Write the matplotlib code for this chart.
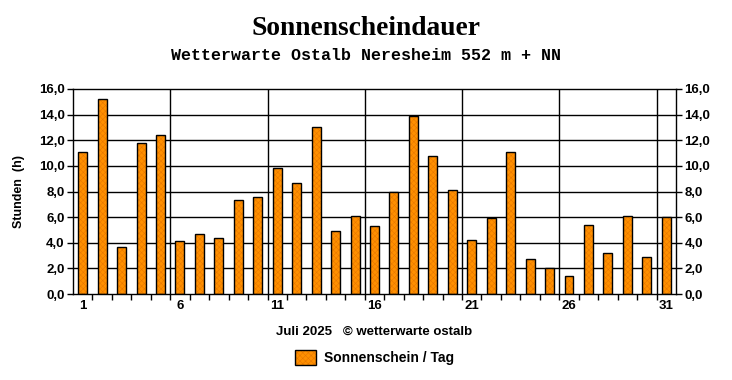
import numpy as np
import matplotlib
matplotlib.use('Agg')
import matplotlib.pyplot as plt

days = np.arange(1, 32)
stunden = [11.1, 15.2, 3.7, 11.8, 12.4, 4.1, 4.7, 4.4, 7.3, 7.6,
           9.8, 8.7, 13.0, 4.9, 6.1, 5.3, 8.0, 13.9, 10.8, 8.1,
           4.2, 5.9, 11.1, 2.7, 2.0, 1.4, 5.4, 3.2, 6.1, 2.9, 6.0]
ytick_vals = np.arange(0, 17, 2)
ytick_labels = ['%.1f' % v for v in ytick_vals]
ytick_labels = [s.replace('.', ',') for s in ytick_labels]
xtick_days = [1, 6, 11, 16, 21, 26, 31]

plt.rcParams['font.family'] = 'Liberation Sans'
plt.rcParams['hatch.linewidth'] = 0.4

fig = plt.figure(figsize=(7.32, 3.8), dpi=100)
ax = fig.add_axes([0.0997, 0.2263, 0.8238, 0.5395])

# Balken: schraffierte Füllung + schwarzer Rand
b1 = ax.bar(days, stunden, 0.46, color='#ff9000', edgecolor='#e87800',
            hatch='xxxxxx', linewidth=0, zorder=2)
b2 = ax.bar(days, stunden, 0.46, fill=False, edgecolor='black',
            linewidth=1.0, zorder=3)

ax.set_xlim(0.5, 31.5)
ax.set_ylim(0, 16)

# Gitter
for v in ytick_vals[1:-1]:
    ax.axhline(v, color='black', lw=1.0, zorder=1)
for d in np.arange(5.5, 31, 5):
    ax.axvline(d, color='black', lw=1.0, zorder=1)

ax.set_yticks(ytick_vals)
ax.set_yticklabels(ytick_labels, fontsize=9.5, fontweight='bold')
ax.tick_params(axis='y', which='both', left=True, right=True, labelleft=True,
               labelright=True, direction='out', length=4, width=1, pad=2)
ax.set_xticks(xtick_days)
ax.set_xticklabels([str(d) for d in xtick_days], fontsize=9.5, fontweight='bold')
ax.set_xticks(np.arange(1.5, 31, 1), minor=True)
ax.tick_params(axis='x', which='major', length=0, pad=4)
ax.tick_params(axis='x', which='minor', direction='out', length=4, width=1)

for s in ax.spines.values():
    s.set_linewidth(1.0)
    s.set_color('black')

ax.set_ylabel('Stunden  (h)', fontsize=9, fontweight='bold', labelpad=10)
ax.set_xlabel('Juli 2025   \u00a9 wetterwarte ostalb', fontsize=9.5,
              fontweight='bold', labelpad=10)

fig.text(0.5, 0.925, 'Sonnenscheindauer', ha='center', va='center',
         fontsize=19.8, fontweight='bold', family='Liberation Serif')
fig.text(0.5, 0.855, 'Wetterwarte Ostalb Neresheim 552 m + NN', ha='center',
         va='center', fontsize=12, fontweight='bold', family='Liberation Mono')

leg = fig.legend([(b1[0], b2[0])], ['Sonnenschein / Tag'], loc='center',
                 bbox_to_anchor=(0.512, 0.06), frameon=False,
                 prop={'size': 10, 'weight': 'bold'}, handlelength=1.5,
                 handleheight=1.3, handletextpad=0.6)

fig.savefig('out.png', dpi=100)
